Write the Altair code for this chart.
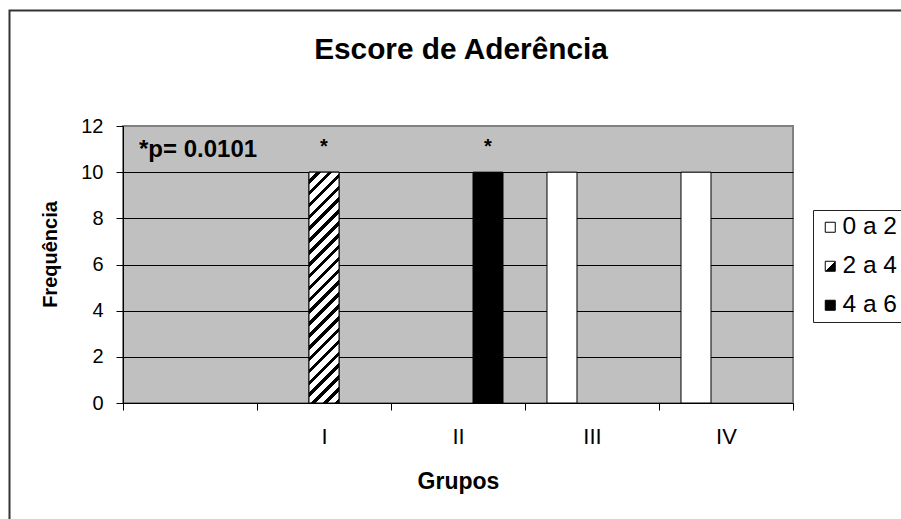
import altair as alt
import pandas as pd

# ---------------- data ----------------
groups = ["", "I", "II", "III", "IV"]
series = ["0 a 2", "2 a 4", "4 a 6"]
freq_0a2 = [0, 0, 0, 10, 10]
freq_2a4 = [0, 10, 0, 0, 0]
freq_4a6 = [0, 0, 10, 0, 0]
y_ticks = [0, 2, 4, 6, 8, 10, 12]
star_groups = ["I", "II"]
star_series = ["2 a 4", "4 a 6"]
star_values = [10, 10]
note_text = ["*p= 0.0101"]
note_group = [""]
note_y = [10.64]

rows = []
for s, vals in zip(series, [freq_0a2, freq_2a4, freq_4a6]):
    for g, v in zip(groups, vals):
        if v > 0:
            rows.append({"grupo": g, "serie": s, "freq": v})
df = pd.DataFrame(rows)
stars = pd.DataFrame({"grupo": star_groups, "serie": star_series, "freq": star_values})
note = pd.DataFrame({"grupo": note_group, "txt": note_text, "y": note_y})

# ---------------- layout / style ----------------
PW, PH = 670, 277
FONT = "Liberation Sans"
BAR_W = 30.0
BAR_H = PH * 10 / 12

# diagonal hatch as a striped linear gradient (45 degree stripes)
b = BAR_H * (BAR_W + BAR_H) / (BAR_W ** 2 + BAR_H ** 2)
a = BAR_W / BAR_H * b
N = 22
f = 0.38
stops = []
for k in range(N):
    o0 = k / N
    o1 = (k + 1 - f) / N
    o2 = (k + 1) / N
    stops += [{"offset": round(o0, 5), "color": "white"},
              {"offset": round(o1, 5), "color": "white"},
              {"offset": round(o1, 5), "color": "black"},
              {"offset": round(o2, 5), "color": "black"}]
hatch = {"gradient": "linear", "x1": 0, "y1": 0, "x2": round(a, 4), "y2": round(b, 4), "stops": stops}

split_expr = ("{gradient: 'linear', x1: 0, y1: 0, x2: 1, y2: 1, stops: ["
              "{offset: 0, color: 'white'}, {offset: 0.5, color: 'white'},"
              "{offset: 0.5, color: 'black'}, {offset: 1, color: 'black'}]}")

x_enc = alt.X("grupo:N", sort=groups,
              scale=alt.Scale(domain=groups, paddingInner=0, paddingOuter=0),
              axis=alt.Axis(title="Grupos", labelAngle=0, tickBand="extent", tickSize=7,
                            tickColor="black", domainColor="black", labelColor="black",
                            labelFontSize=22, labelPadding=16.5, titleFontSize=23,
                            titleFontWeight="bold", titleColor="black", titleY=67, grid=False))
xoff_enc = alt.XOffset("serie:N", scale=alt.Scale(domain=series, paddingInner=0, paddingOuter=0.733))
y_enc = alt.Y("freq:Q", scale=alt.Scale(domain=[0, 12], nice=False),
              axis=alt.Axis(title="Frequência", values=y_ticks, tickSize=7, tickColor="black",
                            domainColor="black", labelColor="black", labelFontSize=20,
                            labelPadding=13, grid=True,
                            gridColor={"condition": {"test": "datum.value >= 12", "value": "#808080"},
                                       "value": "black"},
                            gridWidth=1, titleFontSize=20, titleFontWeight="bold",
                            titleColor="black", titleAngle=270, titleBaseline="bottom",
                            titleAlign="center", titleX=-63, titleY=128))

frame = alt.Chart(pd.DataFrame({"k": [1]})).mark_rect(
    fill="transparent", stroke="#333333", strokeWidth=2
).encode(x=alt.value(-113.5), x2=alt.value(900), y=alt.value(-115.5), y2=alt.value(500))

bars = alt.Chart(df).mark_bar(stroke="black", strokeWidth=1).encode(
    x=x_enc, xOffset=xoff_enc, y=y_enc,
    fill=alt.Fill("serie:N",
                  scale=alt.Scale(domain=series, range=["white", {"expr": split_expr}, "black"]),
                  legend=alt.Legend(title=None, orient="none", legendX=690, legendY=84,
                                    padding=5, fillColor="white", strokeColor="#222222",
                                    symbolType="square", symbolSize=100,
                                    symbolStrokeColor="black", symbolStrokeWidth=1,
                                    labelFontSize=24.5, labelColor="black", labelOffset=0,
                                    rowPadding=14))
)

hatched = alt.Chart(df).transform_filter(alt.datum.serie == "2 a 4").mark_bar(
    stroke="black", strokeWidth=1, fill=hatch
).encode(x=x_enc, xOffset=xoff_enc, y=y_enc)

star_marks = alt.Chart(stars).mark_text(
    text="*", fontSize=20, fontWeight="bold", baseline="alphabetic", dy=-19.5, color="black"
).encode(x=x_enc, xOffset=xoff_enc, y=y_enc)

note_mark = alt.Chart(note).mark_text(
    fontSize=24, fontWeight="bold", align="left", baseline="alphabetic", dx=-51, color="black"
).encode(x=x_enc, y=alt.Y("y:Q"), text="txt:N")

chart = alt.layer(frame, bars, hatched, star_marks, note_mark).properties(
    width=PW, height=PH,
    title=alt.TitleParams("Escore de Aderência", fontSize=29.8, fontWeight="bold",
                          anchor="middle", color="black", offset=0, dy=55, dx=3),
    autosize=alt.AutoSizeParams(type="none"),
    padding={"left": 123, "top": 126, "right": 108, "bottom": 116},
).configure(font=FONT, background="white").configure_view(
    fill="#c0c0c0", stroke="#808080", strokeWidth=2
)

chart.save("out.html", embed_options={"renderer": "svg", "actions": False})
